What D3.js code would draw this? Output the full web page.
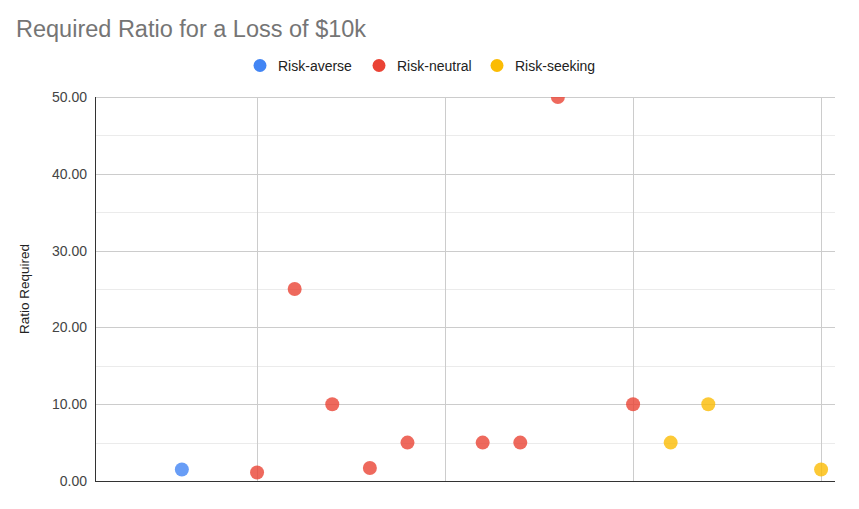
<!DOCTYPE html>
<html>
<head>
<meta charset="utf-8">
<script src="https://cdn.jsdelivr.net/npm/d3@7/dist/d3.min.js"></script>
<style>
  body { margin: 0; background: #fff; font-family: "Liberation Sans", Arial, sans-serif; }
</style>
</head>
<body>
<div id="chart"></div>
<script>
var width = 859,
    height = 509;

// series data
var seriesNames = ["Risk-averse", "Risk-neutral", "Risk-seeking"];
var seriesColors = ["#4285F4", "#EA4335", "#FBBC04"];
var averseX = [3];
var averseY = [1.5];
var neutralX = [5, 6, 7, 8, 9, 11, 12, 13, 15];
var neutralY = [1.1, 25, 10, 1.7, 5, 5, 5, 50, 10];
var seekingX = [16, 17, 20];
var seekingY = [5, 10, 1.5];
var yTicks = [0, 10, 20, 30, 40, 50];
var yMinor = [5, 15, 25, 35, 45];
var xGrid = [5, 10, 15, 20];

var margin = { left: 95, right: 24, top: 97, bottom: 28 };

var svg = d3.select("#chart").append("svg")
    .attr("width", width)
    .attr("height", height);

var x = d3.scaleLinear()
    .domain([0.69, 20.37])
    .range([margin.left, width - margin.right]);

var y = d3.scaleLinear()
    .domain([0, 50])
    .range([height - margin.bottom, margin.top]);

// title
svg.append("text")
    .attr("x", 16)
    .attr("y", 37)
    .attr("fill", "#757575")
    .style("font-size", "23.5px")
    .text("Required Ratio for a Loss of $10k");

// legend
var legendX = [260, 379, 497];
var legend = svg.append("g").selectAll("g")
    .data(seriesNames)
    .enter().append("g")
    .attr("transform", function (d, i) { return "translate(" + legendX[i] + ",65.5)"; });
legend.append("circle")
    .attr("r", 6.5)
    .attr("fill", function (d, i) { return seriesColors[i]; });
legend.append("text")
    .attr("x", 18)
    .attr("dy", "0.36em")
    .attr("fill", "#222")
    .style("font-size", "14px")
    .text(function (d) { return d; });

// gridlines
var grid = svg.append("g");
grid.selectAll(".minor")
    .data(yMinor)
    .enter().append("line")
    .attr("x1", x.range()[0]).attr("x2", x.range()[1])
    .attr("y1", function (d) { return Math.round(y(d)) + 0.5; })
    .attr("y2", function (d) { return Math.round(y(d)) + 0.5; })
    .attr("stroke", "#ebebeb");
grid.selectAll(".major")
    .data(yTicks.slice(1))
    .enter().append("line")
    .attr("x1", x.range()[0]).attr("x2", x.range()[1])
    .attr("y1", function (d) { return Math.round(y(d)) + 0.5; })
    .attr("y2", function (d) { return Math.round(y(d)) + 0.5; })
    .attr("stroke", "#cccccc");
grid.selectAll(".vert")
    .data(xGrid)
    .enter().append("line")
    .attr("x1", function (d) { return Math.round(x(d)) + 0.5; })
    .attr("x2", function (d) { return Math.round(x(d)) + 0.5; })
    .attr("y1", y.range()[1]).attr("y2", y.range()[0])
    .attr("stroke", "#cccccc");

// y axis labels
var yAxis = d3.axisLeft(y)
    .tickValues(yTicks)
    .tickSize(0)
    .tickPadding(8)
    .tickFormat(d3.format(".2f"));
var yg = svg.append("g")
    .attr("transform", "translate(" + margin.left + ",0)")
    .call(yAxis);
yg.select(".domain").remove();
yg.selectAll("text")
    .attr("fill", "#444")
    .style("font-size", "14px")
    .style("font-family", "Liberation Sans, Arial, sans-serif");

svg.append("text")
    .attr("transform", "translate(29," + (y(25)) + ")rotate(-90)")
    .attr("text-anchor", "middle")
    .attr("fill", "#222")
    .style("font-size", "13.5px")
    .text("Ratio Required");

// axis lines
svg.append("line")
    .attr("x1", margin.left + 0.5).attr("x2", margin.left + 0.5)
    .attr("y1", y.range()[1]).attr("y2", y.range()[0])
    .attr("stroke", "#333");
svg.append("line")
    .attr("x1", x.range()[0]).attr("x2", x.range()[1])
    .attr("y1", Math.round(y(0)) + 0.5).attr("y2", Math.round(y(0)) + 0.5)
    .attr("stroke", "#333");

// points, clipped to plot area
svg.append("clipPath").attr("id", "plot")
    .append("rect")
    .attr("x", x.range()[0]).attr("y", y.range()[1])
    .attr("width", x.range()[1] - x.range()[0])
    .attr("height", y.range()[0] - y.range()[1]);

var series = [
    { xs: averseX, ys: averseY },
    { xs: neutralX, ys: neutralY },
    { xs: seekingX, ys: seekingY }
];
var pts = svg.append("g").attr("clip-path", "url(#plot)");
series.forEach(function (s, i) {
    pts.selectAll(".s" + i)
        .data(s.xs.map(function (d, j) { return [d, s.ys[j]]; }))
        .enter().append("circle")
        .attr("cx", function (d) { return x(d[0]); })
        .attr("cy", function (d) { return y(d[1]); })
        .attr("r", 7)
        .attr("fill", seriesColors[i])
        .attr("fill-opacity", 0.8);
});
</script>
</body>
</html>
